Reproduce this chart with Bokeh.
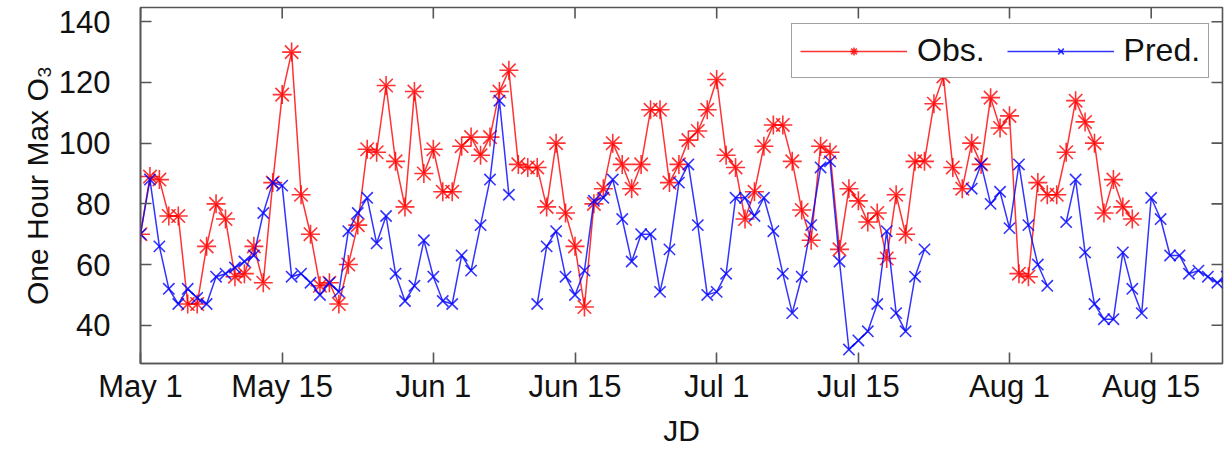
import numpy as np
from bokeh.plotting import figure
from bokeh.models import Range1d, FixedTicker, Legend, LegendItem
from bokeh.embed import file_html
from bokeh.resources import INLINE

nan = np.nan

# Julian day of each record (May 1 = 121)
jd = list(range(121, 237))

# Observed one-hour maximum ozone
obs = [70, 89, 88, 76, 76, 47, 47, 66, 80, 75,
       56, 57, 66, 54, 87, 116, 130, 83, 70, 53,
       54, 47, 60, 73, 98, 97, 119, 94, 79, 117,
       90, 98, 84, 84, 99, 102, 96, 102, 117, 124,
       93, 92, 92, 79, 100, 77, 66, 46, 80, 85,
       100, 93, 85, 93, 111, 111, 87, 93, 101, 104,
       111, 121, 96, 92, 75, 84, 99, 106, 106, 94,
       78, 68, 99, 97, 65, 85, 81, 74, 77, 62,
       83, 70, 94, 94, 113, 122, 92, 85, 100, 93,
       115, 105, 109, 57, 56, 87, 83, 83, 97, 114,
       107, 100, 77, 88, 79, 75, nan, nan, nan, nan,
       nan, nan, nan, nan, nan, nan]

# Model prediction
pred = [70, 88, 66, 52, 47, 52, 49, 47, 56, 57,
        59, 61, 63, 77, 87, 86, 56, 57, 54, 50,
        54, 51, 71, 77, 82, 67, 76, 57, 48, 53,
        68, 56, 48, 47, 63, 58, 73, 88, 114, 83,
        nan, nan, 47, 66, 71, 56, 50, 58, 81, 82,
        88, 75, 61, 70, 70, 51, 65, 87, 93, 73,
        50, 51, 57, 82, 82, 76, 82, 71, 57, 44,
        56, 73, 92, 94, 61, 32, 35, 38, 47, 71,
        44, 38, 56, 65, nan, nan, nan, nan, 85, 93,
        80, 84, 72, 93, 73, 60, 53, nan, 74, 88,
        64, 47, 42, 42, 64, 52, 44, 82, 75, 63,
        63, 57, 58, 56, 54, 56]

tick_days = [121, 136, 152, 167, 182, 197, 213, 228]
tick_labels = ["May 1", "May 15", "Jun 1", "Jun 15", "Jul 1", "Jul 15", "Aug 1", "Aug 15"]
y_ticks = [40, 60, 80, 100, 120, 140]

FONT = "Liberation Sans"
AXIS_COLOR = "#555555"
TEXT_COLOR = "#111111"

X0, X1 = 121, 235.55
Y0, Y1 = 27.4, 144.7
W, H = 1226, 449
BL, BR, BT, BB = 140, 4, 7, 85
TICK_LEN = 11  # px, ticks point inward

p = figure(width=W, height=H,
           x_range=Range1d(X0, X1), y_range=Range1d(Y0, Y1),
           output_backend="svg", toolbar_location=None,
           min_border_left=BL, min_border_right=BR,
           min_border_top=BT, min_border_bottom=BB)
p.xgrid.visible = False
p.ygrid.visible = False
p.outline_line_color = AXIS_COLOR
p.outline_line_width = 1.6
p.background_fill_color = "white"
p.border_fill_color = "white"


def style_axis(ax, ticks):
    ax.ticker = FixedTicker(ticks=ticks)
    ax.axis_line_color = AXIS_COLOR
    ax.axis_line_width = 1.6
    ax.major_tick_line_color = AXIS_COLOR
    ax.major_tick_line_width = 1.6
    ax.major_tick_in = TICK_LEN
    ax.major_tick_out = 0
    ax.minor_tick_line_color = None
    ax.major_label_text_font = FONT
    ax.major_label_text_font_size = "31px"
    ax.major_label_text_color = TEXT_COLOR
    ax.axis_label_text_font = FONT
    ax.axis_label_text_font_size = "30px"
    ax.axis_label_text_font_style = "normal"
    ax.axis_label_text_color = TEXT_COLOR


# bottom axis with date labels
xa = p.xaxis[0]
style_axis(xa, tick_days)
xa.major_label_overrides = {d: t for d, t in zip(tick_days, tick_labels)}
xa.major_label_standoff = 5
xa.axis_label = "JD"
xa.axis_label_standoff = 7

# left axis
ya = p.yaxis[0]
style_axis(ya, y_ticks)
ya.major_label_standoff = 30
ya.axis_label = "One Hour Max O\u2083"
ya.axis_label_standoff = 2

# mirrored inward tick marks along the top and right edges of the box
px_per_x = (W - BL - BR) / (X1 - X0)
px_per_y = (H - BT - BB) / (Y1 - Y0)
dy = TICK_LEN / px_per_y
dx = TICK_LEN / px_per_x
p.segment(x0=tick_days, x1=tick_days, y0=[Y1] * len(tick_days),
          y1=[Y1 - dy] * len(tick_days), line_color=AXIS_COLOR, line_width=1.6)
p.segment(x0=[X1] * len(y_ticks), x1=[X1 - dx] * len(y_ticks), y0=y_ticks,
          y1=y_ticks, line_color=AXIS_COLOR, line_width=1.6)

RED = "#ff0000"
BLUE = "#0000ff"

l_obs = p.line(jd, obs, line_color=RED, line_width=1.5, line_alpha=0.8)
m_obs = p.scatter(jd, obs, marker="asterisk", size=19, line_color=RED,
                  line_width=1.6, line_alpha=0.8)
l_pred = p.line(jd, pred, line_color=BLUE, line_width=1.5, line_alpha=0.8)
m_pred = p.scatter(jd, pred, marker="x", size=16, line_color=BLUE,
                   line_width=1.6, line_alpha=0.8)

legend = Legend(items=[LegendItem(label="Obs.", renderers=[l_obs, m_obs]),
                       LegendItem(label="Pred.", renderers=[l_pred, m_pred])],
                location=(651, 285), orientation="horizontal")
legend.label_text_font = FONT
legend.label_text_font_size = "32px"
legend.label_text_color = TEXT_COLOR
legend.label_height = 30
legend.glyph_width = 107
legend.glyph_height = 20
legend.label_standoff = 10
legend.spacing = 22
legend.padding = 8
legend.margin = 0
legend.border_line_color = "#444444"
legend.border_line_width = 1.6
legend.background_fill_color = "white"
legend.background_fill_alpha = 1.0
p.add_layout(legend, "center")

open("out.html", "w").write(file_html(p, INLINE))
